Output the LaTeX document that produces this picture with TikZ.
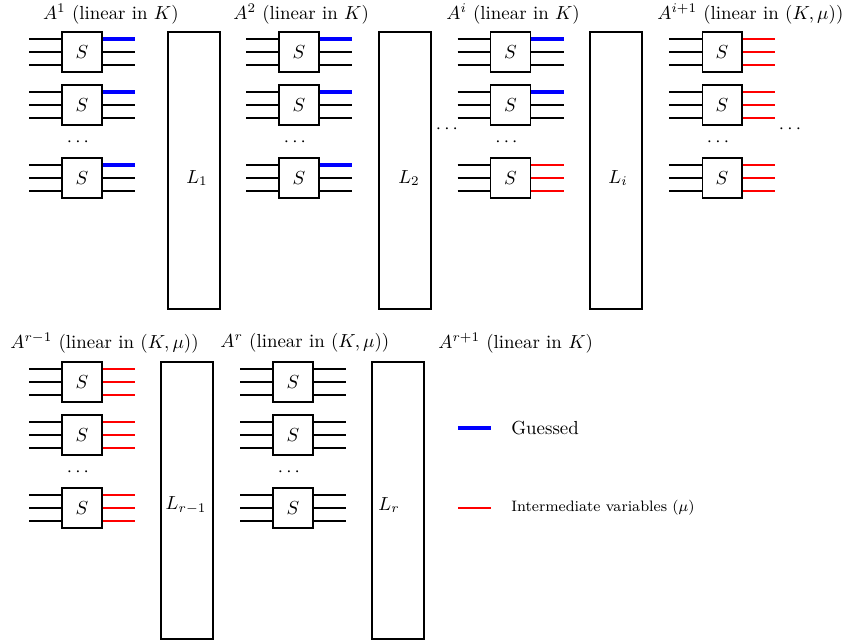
\documentclass[tikz,border=0pt]{standalone}
\usetikzlibrary{calc}
\tikzset{
  sb/.style={draw, line width=0.55pt, minimum width=21.17pt, minimum height=21.17pt, inner sep=0pt},
  wire/.style={draw, line width=0.55pt, black},
  gs/.style={draw, line width=1.7pt, blue},
  iv/.style={draw, line width=1.05pt, red},
  lrect/.style={draw, line width=0.6pt, minimum width=27.53pt, minimum height=146.6pt, inner sep=0pt},
  ttl/.style={anchor=west, inner sep=0pt},
  dts/.style={inner sep=0pt}
}
\newcommand\SBlk[6]{%
  \node[sb] (#1) at (#2,#3) {$S$};
  \coordinate (#1la) at (#2-53,#3-13);
  \coordinate (#1lb) at (#2-53,#3);
  \coordinate (#1lc) at (#2-53,#3+13);
  \coordinate (#1ra) at (#2+53,#3-13);
  \coordinate (#1rb) at (#2+53,#3);
  \coordinate (#1rc) at (#2+53,#3+13);
  \draw[wire] (#1la) -- (#1la -| #1.west);
  \draw[wire] (#1lb) -- (#1lb -| #1.west);
  \draw[wire] (#1lc) -- (#1lc -| #1.west);
  \draw[#4] (#1ra -| #1.east) -- (#1ra);
  \draw[#5] (#1rb -| #1.east) -- (#1rb);
  \draw[#6] (#1rc -| #1.east) -- (#1rc);
}
\begin{document}
\begin{tikzpicture}[x=0.5294pt, y=-0.5294pt]
\useasboundingbox (0,0) rectangle (845,640);

% ---------- top row ----------
\node[ttl] (t1) at (42.7,14) {$A^1$ (linear in $K$)};
\node[ttl] (t2) at (233,14) {$A^2$ (linear in $K$)};
\node[ttl] (t3) at (446,14) {$A^i$ (linear in $K$)};
\node[ttl] (t4) at (657,14) {$A^{i+1}$ (linear in $(K,\mu)$)};

\SBlk{a1}{82}{52}{gs}{wire}{wire}
\SBlk{a2}{82}{105}{gs}{wire}{wire}
\node[dts] (ad) at (78,142) {$\cdots$};
\SBlk{a3}{82}{178}{gs}{wire}{wire}
\node[lrect] (L1) at (194,170.5) {};
\node (L1t) at (197,178) {$L_1$};

\SBlk{b1}{299}{52}{gs}{wire}{wire}
\SBlk{b2}{299}{105}{gs}{wire}{wire}
\node[dts] (bd) at (295,142) {$\cdots$};
\SBlk{b3}{299}{178}{gs}{wire}{wire}
\node[lrect] (L2) at (405,170.5) {};
\node (L2t) at (409,178) {$L_2$};

\node[dts] (gd1) at (447,129) {$\cdots$};

\SBlk{c1}{510.5}{52}{gs}{wire}{wire}
\SBlk{c2}{510.5}{105}{gs}{wire}{wire}
\node[dts] (cd) at (506.5,142) {$\cdots$};
\SBlk{c3}{510.5}{178}{iv}{iv}{iv}
\node[lrect] (Li) at (616,170.5) {};
\node (Lit) at (618,178) {$L_i$};

\SBlk{d1}{722}{52}{iv}{iv}{iv}
\SBlk{d2}{722}{105}{iv}{iv}{iv}
\node[dts] (dd) at (718,142) {$\cdots$};
\SBlk{d3}{722}{178}{iv}{iv}{iv}

\node[dts] (gd2) at (790,129) {$\cdots$};

% ---------- bottom row ----------
\node[ttl] (u1) at (10,343) {$A^{r-1}$ (linear in $(K,\mu)$)};
\node[ttl] (u2) at (220,343) {$A^{r}$ (linear in $(K,\mu)$)};
\node[ttl] (u3) at (438,343) {$A^{r+1}$ (linear in $K$)};

\SBlk{e1}{82}{382}{iv}{iv}{iv}
\SBlk{e2}{82}{435}{iv}{iv}{iv}
\node[dts] (ed) at (78,472) {$\cdots$};
\SBlk{e3}{82}{508}{iv}{iv}{iv}
\node[lrect] (Lr1) at (187,500.5) {};
\node (Lr1t) at (186,505) {$L_{r-1}$};

\SBlk{f1}{293}{382}{wire}{wire}{wire}
\SBlk{f2}{293}{435}{wire}{wire}{wire}
\node[dts] (fd) at (289,472) {$\cdots$};
\SBlk{f3}{293}{508}{wire}{wire}{wire}
\node[lrect] (Lr) at (398,500.5) {};
\node (Lrt) at (389,505) {$L_r$};

% ---------- legend ----------
\coordinate (g1) at (458,428);
\coordinate (g2) at (491,428);
\draw[gs] (g1) -- (g2);
\node[ttl] (gt) at (511,428) {Guessed};
\coordinate (r1) at (458,508);
\coordinate (r2) at (491,508);
\draw[iv] (r1) -- (r2);
\node[ttl] (rt) at (511,508) {\footnotesize Intermediate variables ($\mu$)};
\end{tikzpicture}
\end{document}
